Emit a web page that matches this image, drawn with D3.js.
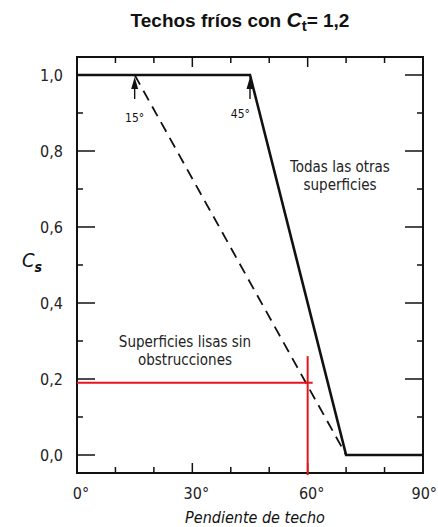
<!DOCTYPE html>
<html><head><meta charset="utf-8">
<script src="https://cdn.jsdelivr.net/npm/d3@7"></script>
<style>body{margin:0;background:#fff}svg{display:block}</style>
</head><body>
<script>
const solidSeries = [[0,1.0],[45,1.0],[70,0.0],[90,0.0]];
const dashedSeries = [[15,1.0],[70,0.0]];
const xTickLabels = [0,30,60,90];
const yTickLabels = [0.0,0.2,0.4,0.6,0.8,1.0];
const arrows = [{x:15,label:"15°"},{x:45,label:"45°"}];
const redX = 60, redY = 0.19, redTop = 0.26, redXEnd = 61.3;

(function(){
const W=438,H=527;
const svg=d3.select("body").append("svg").attr("width",W).attr("height",H);
const x=d3.scaleLinear().domain([0,90]).range([77,423]);
const y=d3.scaleLinear().domain([0,1]).range([455,75]);
const yTop=57,yBot=473;
const fnt="'DejaVu Sans Condensed','DejaVu Sans',sans-serif";

// title
const t=svg.append("text").attr("x",240).attr("y",27).attr("text-anchor","middle")
 .attr("font-family","'Liberation Sans',Arial,sans-serif").attr("font-weight","bold").attr("font-size",19).attr("fill","#111");
t.append("tspan").text("Techos fríos con ");
t.append("tspan").attr("font-style","italic").attr("font-size",21).text("C");
t.append("tspan").attr("dy",4).attr("font-size",15).text("t");
t.append("tspan").attr("dy",-4).text("= 1,2");

// frame
svg.append("rect").attr("x",x(0)).attr("y",yTop).attr("width",x(90)-x(0)).attr("height",yBot-yTop)
 .attr("fill","none").attr("stroke","#111").attr("stroke-width",2);

// ticks
d3.range(10,90,10).forEach(v=>{
 const L=v%30===0?10:6;
 svg.append("line").attr("x1",x(v)).attr("x2",x(v)).attr("y1",yBot).attr("y2",yBot-L).attr("stroke","#111").attr("stroke-width",1.5);
 svg.append("line").attr("x1",x(v)).attr("x2",x(v)).attr("y1",yTop).attr("y2",yTop+L).attr("stroke","#111").attr("stroke-width",1.5);
});
d3.range(0,1.01,0.1).forEach(v=>{
 const L=(Math.round(v*10)%2===0)?18:6;
 svg.append("line").attr("x1",x(0)).attr("x2",x(0)+L).attr("y1",y(v)).attr("y2",y(v)).attr("stroke","#111").attr("stroke-width",1.5);
 svg.append("line").attr("x1",x(90)).attr("x2",x(90)-L).attr("y1",y(v)).attr("y2",y(v)).attr("stroke","#111").attr("stroke-width",1.5);
});

// tick labels
yTickLabels.forEach(v=>{
 svg.append("text").attr("x",63).attr("y",y(v)+6).attr("text-anchor","end").attr("font-family",fnt)
  .attr("font-size",16).attr("fill","#222").text(v.toFixed(1).replace(".",","));
});
xTickLabels.forEach(v=>{
 const last=v===90;
 svg.append("text").attr("x",last?437:x(v)+4).attr("y",499).attr("text-anchor",last?"end":"middle").attr("font-family",fnt)
  .attr("font-size",16).attr("fill","#222").text(v+"°");
});
svg.append("text").attr("x",255).attr("y",523).attr("text-anchor","middle").attr("font-family",fnt)
 .attr("font-style","italic").attr("font-size",16).attr("fill","#111").text("Pendiente de techo");
const cs=svg.append("text").attr("x",22).attr("y",y(0.51)+6).attr("font-family",fnt).attr("font-style","italic").attr("font-size",20).attr("fill","#111");
cs.append("tspan").text("C");
cs.append("tspan").attr("dy",5).attr("font-size",14).attr("font-weight","bold").text("s");

// lines
const line=d3.line().x(d=>x(d[0])).y(d=>y(d[1]));
svg.append("path").attr("d",line(solidSeries)).attr("fill","none").attr("stroke","#111").attr("stroke-width",2.6);
svg.append("path").attr("d",line(dashedSeries)).attr("fill","none").attr("stroke","#111").attr("stroke-width",1.8).attr("stroke-dasharray","11,7");

// arrows
arrows.forEach(a=>{
 const ax=x(a.x);
 svg.append("line").attr("x1",ax).attr("x2",ax).attr("y1",y(1)+24).attr("y2",y(1)+10).attr("stroke","#111").attr("stroke-width",1.4);
 svg.append("path").attr("d",`M${ax},${y(1)+2} L${ax-3.5},${y(1)+14} L${ax+3.5},${y(1)+14} Z`).attr("fill","#111");
});
svg.append("text").attr("x",x(15)).attr("y",y(1)+47).attr("text-anchor","middle").attr("font-family",fnt).attr("font-size",12).attr("fill","#111").text(arrows[0].label);
svg.append("text").attr("x",x(45)).attr("y",y(1)+43).attr("text-anchor","end").attr("font-family",fnt).attr("font-size",12).attr("fill","#111").text(arrows[1].label);

// annotations
const ann=(lines,cx,cy)=>lines.forEach((s,i)=>svg.append("text").attr("x",cx).attr("y",cy+i*18).attr("text-anchor","middle")
 .attr("font-family",fnt).attr("font-size",15).attr("fill","#222").text(s));
ann(["Todas las otras","superficies"],340,172);
ann(["Superficies lisas sin","obstrucciones"],185,347);

// red lines
svg.append("line").attr("x1",x(0)).attr("x2",x(redXEnd)).attr("y1",y(redY)).attr("y2",y(redY)).attr("stroke","#e8141c").attr("stroke-width",2);
svg.append("line").attr("x1",x(redX)).attr("x2",x(redX)).attr("y1",y(redTop)).attr("y2",yBot+2).attr("stroke","#e8141c").attr("stroke-width",2);
})();
</script>
</body></html>
